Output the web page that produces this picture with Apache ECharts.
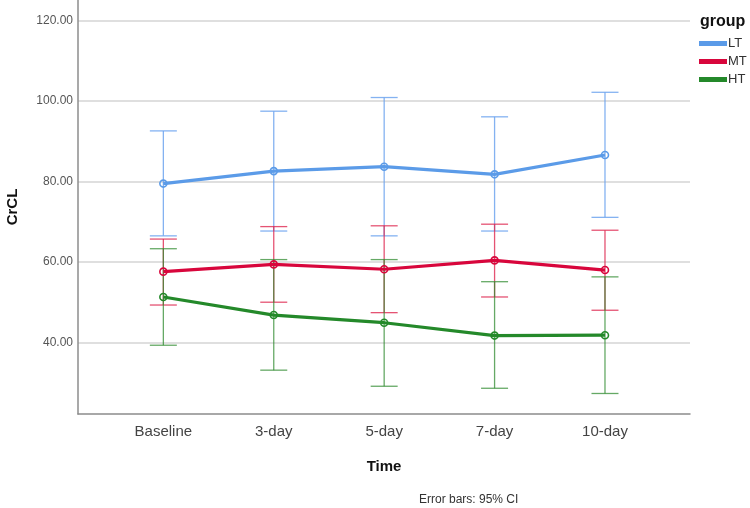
<!DOCTYPE html>
<html>
<head>
<meta charset="utf-8">
<script src="https://cdn.jsdelivr.net/npm/echarts@6/dist/echarts.min.js"></script>
<style>html,body{margin:0;padding:0;background:#fff;}#c{width:750px;height:508px;}</style>
</head>
<body>
<div id="c"></div>
<script>
const categories = ['Baseline', '3-day', '5-day', '7-day', '10-day'];
const yTicks = [40, 60, 80, 100, 120];
const groups = ['LT', 'MT', 'HT'];

const ltMean = [79.5, 82.6, 83.7, 81.8, 86.6];
const ltLow  = [66.5, 67.7, 66.5, 67.7, 71.1];
const ltHigh = [92.6, 97.5, 100.9, 96.1, 102.2];

const mtMean = [57.6, 59.4, 58.2, 60.4, 58.0];
const mtLow  = [49.3, 50.0, 47.4, 51.3, 48.0];
const mtHigh = [65.7, 68.8, 69.0, 69.4, 67.9];

const htMean = [51.3, 46.8, 44.9, 41.7, 41.8];
const htLow  = [39.3, 33.1, 29.1, 28.6, 27.3];
const htHigh = [63.3, 60.6, 60.6, 55.1, 56.3];

const colors = {LT: '#5b9be8', MT: '#d8063c', HT: '#24892a'};
const barColors = {LT: 'rgba(110,165,238,0.85)', MT: 'rgba(222,40,80,0.8)', HT: 'rgba(50,140,50,0.75)'};

const groupData = {
  LT: [ltMean, ltLow, ltHigh],
  MT: [mtMean, mtLow, mtHigh],
  HT: [htMean, htLow, htHigh]
};

const FONT = "'Liberation Sans', Arial, sans-serif";

const series = [];
groups.forEach(function (g) {
  const [mean, low, high] = groupData[g];
  series.push({
    name: g + ' CI',
    type: 'custom',
    z: 1,
    silent: true,
    data: categories.map(function (c, i) { return [i, low[i], high[i]]; }),
    renderItem: function (params, api) {
      const x = api.value(0);
      const p1 = api.coord([x, api.value(1)]);
      const p2 = api.coord([x, api.value(2)]);
      const hw = 13.5;
      const st = {stroke: barColors[g], lineWidth: 1.3, fill: null};
      return {
        type: 'group',
        children: [
          {type: 'line', shape: {x1: p1[0], y1: p1[1], x2: p2[0], y2: p2[1]}, style: st},
          {type: 'line', shape: {x1: p1[0] - hw, y1: p1[1], x2: p1[0] + hw, y2: p1[1]}, style: st},
          {type: 'line', shape: {x1: p2[0] - hw, y1: p2[1], x2: p2[0] + hw, y2: p2[1]}, style: st}
        ]
      };
    }
  });
});
groups.forEach(function (g) {
  const mean = groupData[g][0];
  series.push({
    name: g,
    type: 'line',
    z: 3,
    data: categories.map(function (c, i) { return [i, mean[i]]; }),
    symbol: 'circle',
    symbolSize: 7,
    lineStyle: {color: colors[g], width: 3.2},
    itemStyle: {color: 'rgba(255,255,255,0)', borderColor: colors[g], borderWidth: 1.6},
    emphasis: {disabled: true},
    animation: false
  });
});

const chart = echarts.init(document.getElementById('c'), null, {renderer: 'canvas'});
chart.setOption({
  animation: false,
  backgroundColor: '#ffffff',
  textStyle: {fontFamily: FONT},
  grid: {left: 78, right: 60, top: 0, bottom: 94, containLabel: false, outerBoundsMode: 'none'},
  title: {
    text: 'group', left: 695, top: 9,
    textStyle: {fontFamily: FONT, fontSize: 16, fontWeight: 'bold', color: '#111'}
  },
  legend: {
    orient: 'vertical', left: 699, top: 37, padding: 0,
    icon: 'rect', itemWidth: 26, itemHeight: 3, itemGap: 5,
    textStyle: {fontFamily: FONT, fontSize: 13, color: '#333', padding: [0, 0, 0, -3]},
    data: groups.map(function (g) { return {name: g, itemStyle: {color: colors[g]}}; }),
    selectedMode: false
  },
  xAxis: {
    type: 'value',
    min: -0.773, max: 4.77,
    name: 'Time', nameLocation: 'middle', nameGap: 45,
    nameTextStyle: {fontFamily: FONT, fontSize: 15, fontWeight: 'bold', color: '#111'},
    axisLine: {show: true, onZero: false, lineStyle: {color: '#8c8c8c', width: 1.5}},
    axisTick: {show: false, customValues: [0, 1, 2, 3, 4]},
    axisLabel: {
      customValues: [0, 1, 2, 3, 4], margin: 10,
      fontFamily: FONT, fontSize: 15, color: '#444',
      formatter: function (v) { return categories[Math.round(v)]; }
    },
    splitLine: {show: false}
  },
  yAxis: {
    type: 'value',
    min: 22.2, max: 125.15,
    name: 'CrCL', nameLocation: 'middle', nameGap: 58, nameRotate: 90,
    nameTextStyle: {fontFamily: FONT, fontSize: 15, fontWeight: 'bold', color: '#111'},
    axisLine: {show: true, onZero: false, lineStyle: {color: '#8c8c8c', width: 1.5}},
    axisTick: {show: false, customValues: yTicks},
    axisLabel: {
      customValues: yTicks, margin: 5,
      fontFamily: FONT, fontSize: 12, color: '#555',
      formatter: function (v) { return v.toFixed(2); }
    },
    splitLine: {show: true, lineStyle: {color: '#d4d4d4', width: 1.5}}
  },
  graphic: [{
    type: 'text', left: 419, top: 494,
    style: {text: 'Error bars: 95% CI', fontFamily: FONT, fontSize: 12, fill: '#333'}
  }],
  series: series
});
</script>
</body>
</html>
